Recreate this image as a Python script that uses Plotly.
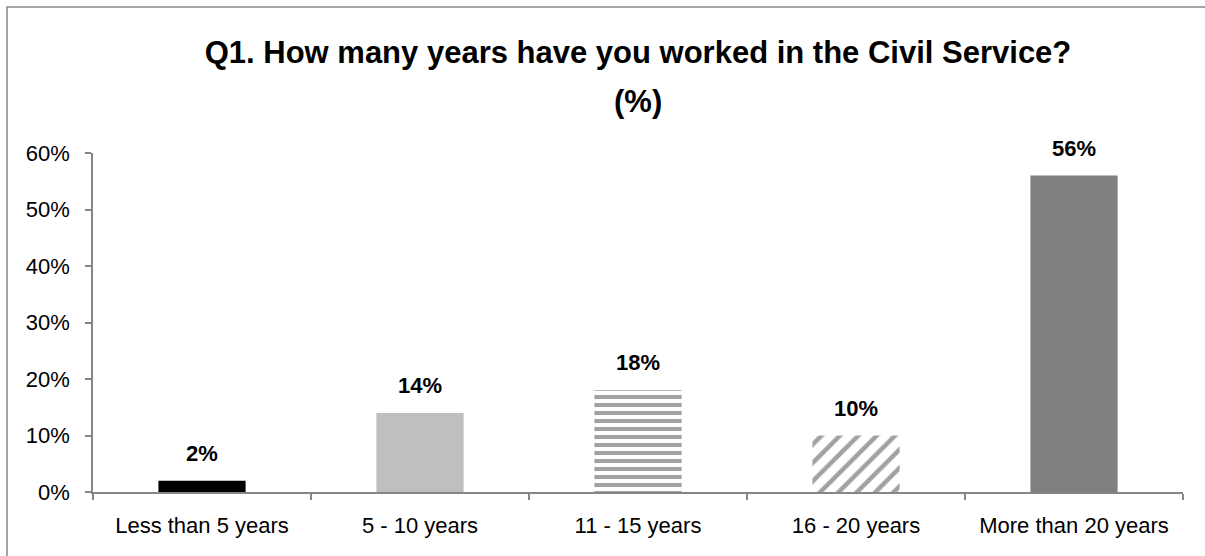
import plotly.graph_objects as go

# Survey results: years worked in the Civil Service
categories = ["Less than 5 years", "5 - 10 years", "11 - 15 years", "16 - 20 years", "More than 20 years"]
shares = [0.02, 0.14, 0.18, 0.10, 0.56]
labels = ["2%", "14%", "18%", "10%", "56%"]

fills = ["#000000", "#bfbfbf", "#ffffff", "#ffffff", "#7f7f7f"]
pattern_shapes = ["", "", "-", "/", ""]
pattern_colors = ["#000000", "#bfbfbf", "#a6a6a6", "#b3b3b3", "#7f7f7f"]

W, H = 1205, 556
L, R, T, B = 93, 22, 153, 64
pw, ph = W - L - R, H - T - B

FONT = "Liberation Sans, Arial, sans-serif"
TITLE_FONT = dict(family=FONT, size=31, color="#000000", weight="bold")

fig = go.Figure(
    go.Bar(
        x=categories,
        y=shares,
        marker=dict(
            color=fills,
            line=dict(width=0),
            pattern=dict(
                shape=pattern_shapes,
                fgcolor=pattern_colors,
                bgcolor="#ffffff",
                size=[8, 8, 8, 13, 8],
                solidity=[0.3, 0.3, 0.5, 0.35, 0.3],
                fillmode="overlay",
            ),
        ),
        width=0.4,
        hoverinfo="x+y",
    )
)

# value labels above each bar
for cat, val, lab in zip(categories, shares, labels):
    fig.add_annotation(
        x=cat, y=val, text=lab, showarrow=False,
        xanchor="center", yanchor="bottom", yshift=13,
        font=dict(family=FONT, size=22, color="#000000", weight="bold"),
    )

# second title line
fig.add_annotation(
    text="(%)", xref="paper", yref="paper",
    x=0.5, y=(H - B - 101) / ph, xanchor="center", yanchor="middle",
    showarrow=False, font=TITLE_FONT,
)

# outer chart frame
fig.add_shape(
    type="rect", xref="paper", yref="paper",
    x0=(7 - L) / pw, x1=(W + 10 - L) / pw,
    y0=(-10 - B) / ph, y1=(H - B - 7) / ph,
    line=dict(color="#868686", width=1.5), fillcolor="rgba(0,0,0,0)", layer="below",
)

fig.update_layout(
    width=W, height=H,
    margin=dict(l=L, r=R, t=T, b=B),
    paper_bgcolor="#ffffff",
    plot_bgcolor="#ffffff",
    showlegend=False,
    font=dict(family=FONT, color="#000000"),
    title=dict(
        text="Q1. How many years have you worked in the Civil Service?",
        x=0.5, xref="paper", xanchor="center",
        y=1 - 52 / H, yref="container", yanchor="middle",
        font=TITLE_FONT,
    ),
    xaxis=dict(
        showline=True, linecolor="#868686", linewidth=1.5,
        ticks="outside", tickson="boundaries", ticklen=6, tickcolor="#868686", tickwidth=1.5,
        ticklabelstandoff=13,
        showgrid=False,
        tickfont=dict(family=FONT, size=22, color="#000000"),
    ),
    yaxis=dict(
        range=[0, 0.6],
        tickvals=[0, 0.1, 0.2, 0.3, 0.4, 0.5, 0.6],
        tickformat=".0%",
        showline=True, linecolor="#868686", linewidth=1.5,
        ticks="outside", ticklen=6, tickcolor="#868686", tickwidth=1.5,
        ticklabelstandoff=11,
        showgrid=False, zeroline=False,
        tickfont=dict(family=FONT, size=22, color="#000000"),
    ),
)

fig.write_html("out.html")
